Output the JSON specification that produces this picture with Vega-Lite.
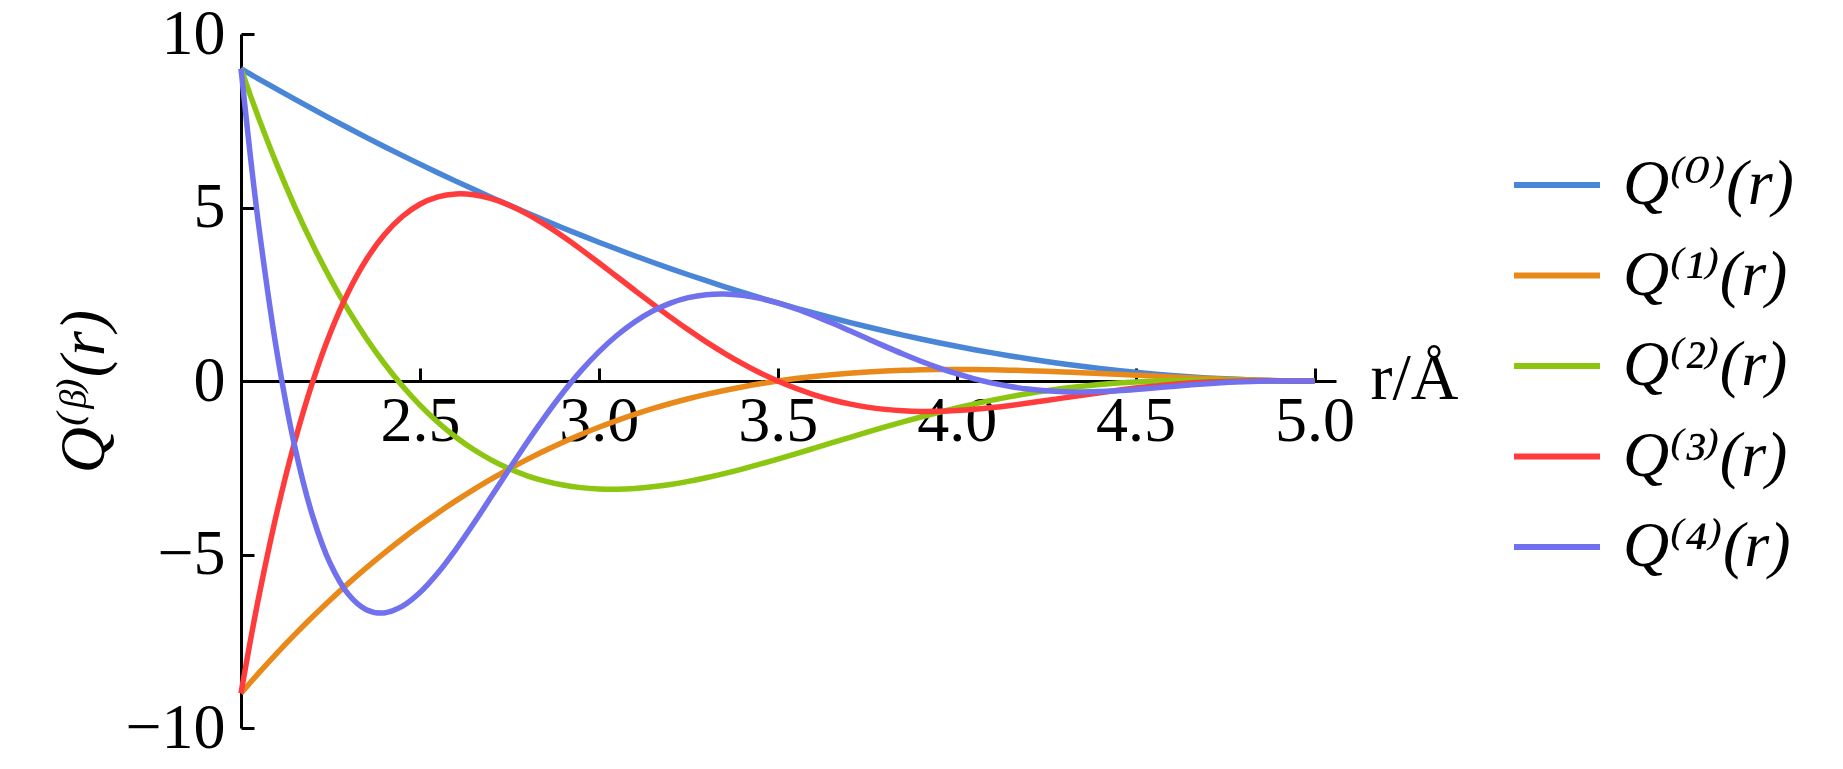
{
  "$schema": "https://vega.github.io/schema/vega-lite/v6.json",
  "autosize": {"type": "none"},
  "padding": {"left": 241, "top": 34, "right": 507, "bottom": 41},
  "width": 1095,
  "height": 694,
  "background": "white",
  "config": {"view": {"stroke": null}},
  "data": {"values": [
    {"r":2,"s":"Q⁽⁰⁾(r)","q":9},{"r":2.025,"s":"Q⁽⁰⁾(r)","q":8.8506},{"r":2.05,"s":"Q⁽⁰⁾(r)","q":8.7025},{"r":2.1,"s":"Q⁽⁰⁾(r)","q":8.41},{"r":2.15,"s":"Q⁽⁰⁾(r)","q":8.1225},{"r":2.2,"s":"Q⁽⁰⁾(r)","q":7.84},{"r":2.25,"s":"Q⁽⁰⁾(r)","q":7.5625},{"r":2.3,"s":"Q⁽⁰⁾(r)","q":7.29},{"r":2.35,"s":"Q⁽⁰⁾(r)","q":7.0225},{"r":2.4,"s":"Q⁽⁰⁾(r)","q":6.76},{"r":2.45,"s":"Q⁽⁰⁾(r)","q":6.5025},{"r":2.5,"s":"Q⁽⁰⁾(r)","q":6.25},{"r":2.55,"s":"Q⁽⁰⁾(r)","q":6.0025},{"r":2.6,"s":"Q⁽⁰⁾(r)","q":5.76},{"r":2.65,"s":"Q⁽⁰⁾(r)","q":5.5225},{"r":2.7,"s":"Q⁽⁰⁾(r)","q":5.29},{"r":2.75,"s":"Q⁽⁰⁾(r)","q":5.0625},{"r":2.8,"s":"Q⁽⁰⁾(r)","q":4.84},{"r":2.85,"s":"Q⁽⁰⁾(r)","q":4.6225},{"r":2.9,"s":"Q⁽⁰⁾(r)","q":4.41},{"r":2.95,"s":"Q⁽⁰⁾(r)","q":4.2025},{"r":3,"s":"Q⁽⁰⁾(r)","q":4},{"r":3.05,"s":"Q⁽⁰⁾(r)","q":3.8025},{"r":3.1,"s":"Q⁽⁰⁾(r)","q":3.61},{"r":3.15,"s":"Q⁽⁰⁾(r)","q":3.4225},{"r":3.2,"s":"Q⁽⁰⁾(r)","q":3.24},{"r":3.25,"s":"Q⁽⁰⁾(r)","q":3.0625},{"r":3.3,"s":"Q⁽⁰⁾(r)","q":2.89},{"r":3.35,"s":"Q⁽⁰⁾(r)","q":2.7225},{"r":3.4,"s":"Q⁽⁰⁾(r)","q":2.56},{"r":3.45,"s":"Q⁽⁰⁾(r)","q":2.4025},{"r":3.5,"s":"Q⁽⁰⁾(r)","q":2.25},{"r":3.55,"s":"Q⁽⁰⁾(r)","q":2.1025},{"r":3.6,"s":"Q⁽⁰⁾(r)","q":1.96},{"r":3.65,"s":"Q⁽⁰⁾(r)","q":1.8225},{"r":3.7,"s":"Q⁽⁰⁾(r)","q":1.69},{"r":3.75,"s":"Q⁽⁰⁾(r)","q":1.5625},{"r":3.8,"s":"Q⁽⁰⁾(r)","q":1.44},{"r":3.85,"s":"Q⁽⁰⁾(r)","q":1.3225},{"r":3.9,"s":"Q⁽⁰⁾(r)","q":1.21},{"r":3.95,"s":"Q⁽⁰⁾(r)","q":1.1025},{"r":4,"s":"Q⁽⁰⁾(r)","q":1},{"r":4.05,"s":"Q⁽⁰⁾(r)","q":0.9025},{"r":4.1,"s":"Q⁽⁰⁾(r)","q":0.81},{"r":4.15,"s":"Q⁽⁰⁾(r)","q":0.7225},{"r":4.2,"s":"Q⁽⁰⁾(r)","q":0.64},{"r":4.25,"s":"Q⁽⁰⁾(r)","q":0.5625},{"r":4.3,"s":"Q⁽⁰⁾(r)","q":0.49},{"r":4.35,"s":"Q⁽⁰⁾(r)","q":0.4225},{"r":4.4,"s":"Q⁽⁰⁾(r)","q":0.36},{"r":4.45,"s":"Q⁽⁰⁾(r)","q":0.3025},{"r":4.5,"s":"Q⁽⁰⁾(r)","q":0.25},{"r":4.55,"s":"Q⁽⁰⁾(r)","q":0.2025},{"r":4.6,"s":"Q⁽⁰⁾(r)","q":0.16},{"r":4.65,"s":"Q⁽⁰⁾(r)","q":0.1225},{"r":4.7,"s":"Q⁽⁰⁾(r)","q":0.09},{"r":4.75,"s":"Q⁽⁰⁾(r)","q":0.0625},{"r":4.8,"s":"Q⁽⁰⁾(r)","q":0.04},{"r":4.85,"s":"Q⁽⁰⁾(r)","q":0.0225},{"r":4.9,"s":"Q⁽⁰⁾(r)","q":0.01},{"r":4.95,"s":"Q⁽⁰⁾(r)","q":0.0025},{"r":5,"s":"Q⁽⁰⁾(r)","q":0},

    {"r":2,"s":"Q⁽¹⁾(r)","q":-9},{"r":2.025,"s":"Q⁽¹⁾(r)","q":-8.7031},{"r":2.05,"s":"Q⁽¹⁾(r)","q":-8.4124},{"r":2.1,"s":"Q⁽¹⁾(r)","q":-7.8493},{"r":2.15,"s":"Q⁽¹⁾(r)","q":-7.3103},{"r":2.2,"s":"Q⁽¹⁾(r)","q":-6.7947},{"r":2.25,"s":"Q⁽¹⁾(r)","q":-6.3021},{"r":2.3,"s":"Q⁽¹⁾(r)","q":-5.832},{"r":2.35,"s":"Q⁽¹⁾(r)","q":-5.3839},{"r":2.4,"s":"Q⁽¹⁾(r)","q":-4.9573},{"r":2.45,"s":"Q⁽¹⁾(r)","q":-4.5518},{"r":2.5,"s":"Q⁽¹⁾(r)","q":-4.1667},{"r":2.55,"s":"Q⁽¹⁾(r)","q":-3.8016},{"r":2.6,"s":"Q⁽¹⁾(r)","q":-3.456},{"r":2.65,"s":"Q⁽¹⁾(r)","q":-3.1294},{"r":2.7,"s":"Q⁽¹⁾(r)","q":-2.8213},{"r":2.75,"s":"Q⁽¹⁾(r)","q":-2.5313},{"r":2.8,"s":"Q⁽¹⁾(r)","q":-2.2587},{"r":2.85,"s":"Q⁽¹⁾(r)","q":-2.0031},{"r":2.9,"s":"Q⁽¹⁾(r)","q":-1.764},{"r":2.95,"s":"Q⁽¹⁾(r)","q":-1.5409},{"r":3,"s":"Q⁽¹⁾(r)","q":-1.3333},{"r":3.05,"s":"Q⁽¹⁾(r)","q":-1.1408},{"r":3.1,"s":"Q⁽¹⁾(r)","q":-0.9627},{"r":3.15,"s":"Q⁽¹⁾(r)","q":-0.7986},{"r":3.2,"s":"Q⁽¹⁾(r)","q":-0.648},{"r":3.25,"s":"Q⁽¹⁾(r)","q":-0.5104},{"r":3.3,"s":"Q⁽¹⁾(r)","q":-0.3853},{"r":3.35,"s":"Q⁽¹⁾(r)","q":-0.2723},{"r":3.4,"s":"Q⁽¹⁾(r)","q":-0.1707},{"r":3.45,"s":"Q⁽¹⁾(r)","q":-0.0801},{"r":3.5,"s":"Q⁽¹⁾(r)","q":0},{"r":3.55,"s":"Q⁽¹⁾(r)","q":0.0701},{"r":3.6,"s":"Q⁽¹⁾(r)","q":0.1307},{"r":3.65,"s":"Q⁽¹⁾(r)","q":0.1823},{"r":3.7,"s":"Q⁽¹⁾(r)","q":0.2253},{"r":3.75,"s":"Q⁽¹⁾(r)","q":0.2604},{"r":3.8,"s":"Q⁽¹⁾(r)","q":0.288},{"r":3.85,"s":"Q⁽¹⁾(r)","q":0.3086},{"r":3.9,"s":"Q⁽¹⁾(r)","q":0.3227},{"r":3.95,"s":"Q⁽¹⁾(r)","q":0.3308},{"r":4,"s":"Q⁽¹⁾(r)","q":0.3333},{"r":4.05,"s":"Q⁽¹⁾(r)","q":0.3309},{"r":4.1,"s":"Q⁽¹⁾(r)","q":0.324},{"r":4.15,"s":"Q⁽¹⁾(r)","q":0.3131},{"r":4.2,"s":"Q⁽¹⁾(r)","q":0.2987},{"r":4.25,"s":"Q⁽¹⁾(r)","q":0.2813},{"r":4.3,"s":"Q⁽¹⁾(r)","q":0.2613},{"r":4.35,"s":"Q⁽¹⁾(r)","q":0.2394},{"r":4.4,"s":"Q⁽¹⁾(r)","q":0.216},{"r":4.45,"s":"Q⁽¹⁾(r)","q":0.1916},{"r":4.5,"s":"Q⁽¹⁾(r)","q":0.1667},{"r":4.55,"s":"Q⁽¹⁾(r)","q":0.1418},{"r":4.6,"s":"Q⁽¹⁾(r)","q":0.1173},{"r":4.65,"s":"Q⁽¹⁾(r)","q":0.0939},{"r":4.7,"s":"Q⁽¹⁾(r)","q":0.072},{"r":4.75,"s":"Q⁽¹⁾(r)","q":0.0521},{"r":4.8,"s":"Q⁽¹⁾(r)","q":0.0347},{"r":4.85,"s":"Q⁽¹⁾(r)","q":0.0203},{"r":4.9,"s":"Q⁽¹⁾(r)","q":0.0093},{"r":4.95,"s":"Q⁽¹⁾(r)","q":0.0024},{"r":5,"s":"Q⁽¹⁾(r)","q":0},

    {"r":2,"s":"Q⁽²⁾(r)","q":9},{"r":2.025,"s":"Q⁽²⁾(r)","q":8.2655},{"r":2.05,"s":"Q⁽²⁾(r)","q":7.5615},{"r":2.1,"s":"Q⁽²⁾(r)","q":6.2421},{"r":2.15,"s":"Q⁽²⁾(r)","q":5.036},{"r":2.2,"s":"Q⁽²⁾(r)","q":3.9374},{"r":2.25,"s":"Q⁽²⁾(r)","q":2.941},{"r":2.3,"s":"Q⁽²⁾(r)","q":2.0412},{"r":2.35,"s":"Q⁽²⁾(r)","q":1.2329},{"r":2.4,"s":"Q⁽²⁾(r)","q":0.5108},{"r":2.45,"s":"Q⁽²⁾(r)","q":-0.1301},{"r":2.5,"s":"Q⁽²⁾(r)","q":-0.6944},{"r":2.55,"s":"Q⁽²⁾(r)","q":-1.1872},{"r":2.6,"s":"Q⁽²⁾(r)","q":-1.6128},{"r":2.65,"s":"Q⁽²⁾(r)","q":-1.9758},{"r":2.7,"s":"Q⁽²⁾(r)","q":-2.2806},{"r":2.75,"s":"Q⁽²⁾(r)","q":-2.5313},{"r":2.8,"s":"Q⁽²⁾(r)","q":-2.7319},{"r":2.85,"s":"Q⁽²⁾(r)","q":-2.8865},{"r":2.9,"s":"Q⁽²⁾(r)","q":-2.9988},{"r":2.95,"s":"Q⁽²⁾(r)","q":-3.0725},{"r":3,"s":"Q⁽²⁾(r)","q":-3.1111},{"r":3.05,"s":"Q⁽²⁾(r)","q":-3.1181},{"r":3.1,"s":"Q⁽²⁾(r)","q":-3.0966},{"r":3.15,"s":"Q⁽²⁾(r)","q":-3.0498},{"r":3.2,"s":"Q⁽²⁾(r)","q":-2.9808},{"r":3.25,"s":"Q⁽²⁾(r)","q":-2.8924},{"r":3.3,"s":"Q⁽²⁾(r)","q":-2.7872},{"r":3.35,"s":"Q⁽²⁾(r)","q":-2.6681},{"r":3.4,"s":"Q⁽²⁾(r)","q":-2.5372},{"r":3.45,"s":"Q⁽²⁾(r)","q":-2.3972},{"r":3.5,"s":"Q⁽²⁾(r)","q":-2.25},{"r":3.55,"s":"Q⁽²⁾(r)","q":-2.0978},{"r":3.6,"s":"Q⁽²⁾(r)","q":-1.9426},{"r":3.65,"s":"Q⁽²⁾(r)","q":-1.7861},{"r":3.7,"s":"Q⁽²⁾(r)","q":-1.6299},{"r":3.75,"s":"Q⁽²⁾(r)","q":-1.4757},{"r":3.8,"s":"Q⁽²⁾(r)","q":-1.3248},{"r":3.85,"s":"Q⁽²⁾(r)","q":-1.1785},{"r":3.9,"s":"Q⁽²⁾(r)","q":-1.0379},{"r":3.95,"s":"Q⁽²⁾(r)","q":-0.9041},{"r":4,"s":"Q⁽²⁾(r)","q":-0.7778},{"r":4.05,"s":"Q⁽²⁾(r)","q":-0.6598},{"r":4.1,"s":"Q⁽²⁾(r)","q":-0.5508},{"r":4.15,"s":"Q⁽²⁾(r)","q":-0.4512},{"r":4.2,"s":"Q⁽²⁾(r)","q":-0.3612},{"r":4.25,"s":"Q⁽²⁾(r)","q":-0.2813},{"r":4.3,"s":"Q⁽²⁾(r)","q":-0.2112},{"r":4.35,"s":"Q⁽²⁾(r)","q":-0.1512},{"r":4.4,"s":"Q⁽²⁾(r)","q":-0.1008},{"r":4.45,"s":"Q⁽²⁾(r)","q":-0.0598},{"r":4.5,"s":"Q⁽²⁾(r)","q":-0.0278},{"r":4.55,"s":"Q⁽²⁾(r)","q":-0.0041},{"r":4.6,"s":"Q⁽²⁾(r)","q":0.0121},{"r":4.65,"s":"Q⁽²⁾(r)","q":0.0215},{"r":4.7,"s":"Q⁽²⁾(r)","q":0.0252},{"r":4.75,"s":"Q⁽²⁾(r)","q":0.0243},{"r":4.8,"s":"Q⁽²⁾(r)","q":0.0201},{"r":4.85,"s":"Q⁽²⁾(r)","q":0.014},{"r":4.9,"s":"Q⁽²⁾(r)","q":0.0074},{"r":4.95,"s":"Q⁽²⁾(r)","q":0.0022},{"r":5,"s":"Q⁽²⁾(r)","q":0},

    {"r":2,"s":"Q⁽³⁾(r)","q":-9},{"r":2.025,"s":"Q⁽³⁾(r)","q":-7.5525},{"r":2.05,"s":"Q⁽³⁾(r)","q":-6.2067},{"r":2.1,"s":"Q⁽³⁾(r)","q":-3.8026},{"r":2.15,"s":"Q⁽³⁾(r)","q":-1.7545},{"r":2.2,"s":"Q⁽³⁾(r)","q":-0.0302},{"r":2.25,"s":"Q⁽³⁾(r)","q":1.4005},{"r":2.3,"s":"Q⁽³⁾(r)","q":2.5661},{"r":2.35,"s":"Q⁽³⁾(r)","q":3.4936},{"r":2.4,"s":"Q⁽³⁾(r)","q":4.2082},{"r":2.45,"s":"Q⁽³⁾(r)","q":4.7338},{"r":2.5,"s":"Q⁽³⁾(r)","q":5.0926},{"r":2.55,"s":"Q⁽³⁾(r)","q":5.3053},{"r":2.6,"s":"Q⁽³⁾(r)","q":5.3914},{"r":2.65,"s":"Q⁽³⁾(r)","q":5.3687},{"r":2.7,"s":"Q⁽³⁾(r)","q":5.254},{"r":2.75,"s":"Q⁽³⁾(r)","q":5.0625},{"r":2.8,"s":"Q⁽³⁾(r)","q":4.8084},{"r":2.85,"s":"Q⁽³⁾(r)","q":4.5047},{"r":2.9,"s":"Q⁽³⁾(r)","q":4.163},{"r":2.95,"s":"Q⁽³⁾(r)","q":3.7941},{"r":3,"s":"Q⁽³⁾(r)","q":3.4074},{"r":3.05,"s":"Q⁽³⁾(r)","q":3.0116},{"r":3.1,"s":"Q⁽³⁾(r)","q":2.6142},{"r":3.15,"s":"Q⁽³⁾(r)","q":2.2219},{"r":3.2,"s":"Q⁽³⁾(r)","q":1.8403},{"r":3.25,"s":"Q⁽³⁾(r)","q":1.4745},{"r":3.3,"s":"Q⁽³⁾(r)","q":1.1286},{"r":3.35,"s":"Q⁽³⁾(r)","q":0.8059},{"r":3.4,"s":"Q⁽³⁾(r)","q":0.509},{"r":3.45,"s":"Q⁽³⁾(r)","q":0.2399},{"r":3.5,"s":"Q⁽³⁾(r)","q":0},{"r":3.55,"s":"Q⁽³⁾(r)","q":-0.2099},{"r":3.6,"s":"Q⁽³⁾(r)","q":-0.3897},{"r":3.65,"s":"Q⁽³⁾(r)","q":-0.5395},{"r":3.7,"s":"Q⁽³⁾(r)","q":-0.66},{"r":3.75,"s":"Q⁽³⁾(r)","q":-0.7523},{"r":3.8,"s":"Q⁽³⁾(r)","q":-0.8179},{"r":3.85,"s":"Q⁽³⁾(r)","q":-0.8586},{"r":3.9,"s":"Q⁽³⁾(r)","q":-0.8762},{"r":3.95,"s":"Q⁽³⁾(r)","q":-0.8732},{"r":4,"s":"Q⁽³⁾(r)","q":-0.8519},{"r":4.05,"s":"Q⁽³⁾(r)","q":-0.8148},{"r":4.1,"s":"Q⁽³⁾(r)","q":-0.7646},{"r":4.15,"s":"Q⁽³⁾(r)","q":-0.7041},{"r":4.2,"s":"Q⁽³⁾(r)","q":-0.6358},{"r":4.25,"s":"Q⁽³⁾(r)","q":-0.5625},{"r":4.3,"s":"Q⁽³⁾(r)","q":-0.4867},{"r":4.35,"s":"Q⁽³⁾(r)","q":-0.4107},{"r":4.4,"s":"Q⁽³⁾(r)","q":-0.337},{"r":4.45,"s":"Q⁽³⁾(r)","q":-0.2674},{"r":4.5,"s":"Q⁽³⁾(r)","q":-0.2037},{"r":4.55,"s":"Q⁽³⁾(r)","q":-0.1474},{"r":4.6,"s":"Q⁽³⁾(r)","q":-0.0996},{"r":4.65,"s":"Q⁽³⁾(r)","q":-0.0609},{"r":4.7,"s":"Q⁽³⁾(r)","q":-0.0317},{"r":4.75,"s":"Q⁽³⁾(r)","q":-0.0116},{"r":4.8,"s":"Q⁽³⁾(r)","q":0.0002},{"r":4.85,"s":"Q⁽³⁾(r)","q":0.0049},{"r":4.9,"s":"Q⁽³⁾(r)","q":0.0045},{"r":4.95,"s":"Q⁽³⁾(r)","q":0.0018},{"r":5,"s":"Q⁽³⁾(r)","q":0},

    {"r":2,"s":"Q⁽⁴⁾(r)","q":9},{"r":2.025,"s":"Q⁽⁴⁾(r)","q":6.5873},{"r":2.05,"s":"Q⁽⁴⁾(r)","q":4.4379},{"r":2.1,"s":"Q⁽⁴⁾(r)","q":0.8556},{"r":2.15,"s":"Q⁽⁴⁾(r)","q":-1.8779},{"r":2.2,"s":"Q⁽⁴⁾(r)","q":-3.8852},{"r":2.25,"s":"Q⁽⁴⁾(r)","q":-5.2751},{"r":2.3,"s":"Q⁽⁴⁾(r)","q":-6.1469},{"r":2.35,"s":"Q⁽⁴⁾(r)","q":-6.5897},{"r":2.4,"s":"Q⁽⁴⁾(r)","q":-6.6829},{"r":2.45,"s":"Q⁽⁴⁾(r)","q":-6.4973},{"r":2.5,"s":"Q⁽⁴⁾(r)","q":-6.0957},{"r":2.55,"s":"Q⁽⁴⁾(r)","q":-5.5329},{"r":2.6,"s":"Q⁽⁴⁾(r)","q":-4.8568},{"r":2.65,"s":"Q⁽⁴⁾(r)","q":-4.1087},{"r":2.7,"s":"Q⁽⁴⁾(r)","q":-3.3236},{"r":2.75,"s":"Q⁽⁴⁾(r)","q":-2.5313},{"r":2.8,"s":"Q⁽⁴⁾(r)","q":-1.7559},{"r":2.85,"s":"Q⁽⁴⁾(r)","q":-1.0176},{"r":2.9,"s":"Q⁽⁴⁾(r)","q":-0.3316},{"r":2.95,"s":"Q⁽⁴⁾(r)","q":0.2901},{"r":3,"s":"Q⁽⁴⁾(r)","q":0.8395},{"r":3.05,"s":"Q⁽⁴⁾(r)","q":1.3111},{"r":3.1,"s":"Q⁽⁴⁾(r)","q":1.7023},{"r":3.15,"s":"Q⁽⁴⁾(r)","q":2.013},{"r":3.2,"s":"Q⁽⁴⁾(r)","q":2.2447},{"r":3.25,"s":"Q⁽⁴⁾(r)","q":2.4009},{"r":3.3,"s":"Q⁽⁴⁾(r)","q":2.4863},{"r":3.35,"s":"Q⁽⁴⁾(r)","q":2.5069},{"r":3.4,"s":"Q⁽⁴⁾(r)","q":2.4694},{"r":3.45,"s":"Q⁽⁴⁾(r)","q":2.3812},{"r":3.5,"s":"Q⁽⁴⁾(r)","q":2.25},{"r":3.55,"s":"Q⁽⁴⁾(r)","q":2.0838},{"r":3.6,"s":"Q⁽⁴⁾(r)","q":1.8906},{"r":3.65,"s":"Q⁽⁴⁾(r)","q":1.6782},{"r":3.7,"s":"Q⁽⁴⁾(r)","q":1.4539},{"r":3.75,"s":"Q⁽⁴⁾(r)","q":1.2249},{"r":3.8,"s":"Q⁽⁴⁾(r)","q":0.9976},{"r":3.85,"s":"Q⁽⁴⁾(r)","q":0.7778},{"r":3.9,"s":"Q⁽⁴⁾(r)","q":0.5706},{"r":3.95,"s":"Q⁽⁴⁾(r)","q":0.3801},{"r":4,"s":"Q⁽⁴⁾(r)","q":0.2099},{"r":4.05,"s":"Q⁽⁴⁾(r)","q":0.0623},{"r":4.1,"s":"Q⁽⁴⁾(r)","q":-0.0609},{"r":4.15,"s":"Q⁽⁴⁾(r)","q":-0.1591},{"r":4.2,"s":"Q⁽⁴⁾(r)","q":-0.2322},{"r":4.25,"s":"Q⁽⁴⁾(r)","q":-0.2813},{"r":4.3,"s":"Q⁽⁴⁾(r)","q":-0.3079},{"r":4.35,"s":"Q⁽⁴⁾(r)","q":-0.3143},{"r":4.4,"s":"Q⁽⁴⁾(r)","q":-0.3036},{"r":4.45,"s":"Q⁽⁴⁾(r)","q":-0.2788},{"r":4.5,"s":"Q⁽⁴⁾(r)","q":-0.2438},{"r":4.55,"s":"Q⁽⁴⁾(r)","q":-0.2023},{"r":4.6,"s":"Q⁽⁴⁾(r)","q":-0.1582},{"r":4.65,"s":"Q⁽⁴⁾(r)","q":-0.115},{"r":4.7,"s":"Q⁽⁴⁾(r)","q":-0.0759},{"r":4.75,"s":"Q⁽⁴⁾(r)","q":-0.0436},{"r":4.8,"s":"Q⁽⁴⁾(r)","q":-0.0198},{"r":4.85,"s":"Q⁽⁴⁾(r)","q":-0.0052},{"r":4.9,"s":"Q⁽⁴⁾(r)","q":0.001},{"r":4.95,"s":"Q⁽⁴⁾(r)","q":0.0013},{"r":5,"s":"Q⁽⁴⁾(r)","q":0}
  ]},
  "mark": {"type": "line", "strokeWidth": 5.5, "interpolate": "catmull-rom"},
  "encoding": {
    "x": {
      "field": "r", "type": "quantitative",
      "scale": {"domain": [2, 5.06], "nice": false, "zero": false},
      "axis": {
        "orient": "bottom", "offset": -347,
        "values": [2.5, 3, 3.5, 4, 4.5, 5], "format": ".1f",
        "grid": false, "labelFlush": false, "labelOverlap": false,
        "domainColor": "black", "domainWidth": 3,
        "tickColor": "black", "tickWidth": 3, "tickSize": -13,
        "labelFont": "Liberation Serif", "labelFontSize": 64, "labelColor": "black", "labelPadding": 21,
        "title": "r/Å", "titleFont": "Liberation Serif", "titleFontSize": 66, "titleFontWeight": "normal", "titleColor": "black",
        "titleX": 1129, "titleY": 17, "titleAlign": "left", "titleBaseline": "alphabetic", "titleAngle": 0
      }
    },
    "y": {
      "field": "q", "type": "quantitative",
      "scale": {"domain": [-10, 10], "nice": false},
      "axis": {
        "values": [-10, -5, 0, 5, 10], "format": "d",
        "grid": false, "labelFlush": false, "labelOverlap": false,
        "domainColor": "black", "domainWidth": 3,
        "tickColor": "black", "tickWidth": 3, "tickSize": -13,
        "labelFont": "Liberation Serif", "labelFontSize": 64, "labelColor": "black", "labelPadding": 29,
        "title": "Q⁽ᵝ⁾(r)", "titleFont": "'Liberation Serif', 'DejaVu Serif', serif", "titleFontSize": 64, "titleFontWeight": "normal", "titleFontStyle": "italic", "titleColor": "black",
        "titleX": -138, "titleY": 357, "titleAngle": 270, "titleAlign": "center", "titleBaseline": "alphabetic"
      }
    },
    "color": {
      "field": "s", "type": "nominal",
      "scale": {"domain": ["Q⁽⁰⁾(r)", "Q⁽¹⁾(r)", "Q⁽²⁾(r)", "Q⁽³⁾(r)", "Q⁽⁴⁾(r)"], "range": ["#4a86d8", "#e8891a", "#8cc611", "#ff3b3b", "#7171ee"]},
      "legend": {
        "orient": "none", "legendX": 1270, "legendY": 105, "title": null, "padding": 0,
        "symbolType": "stroke", "symbolSize": 7396, "symbolStrokeWidth": 6,
        "labelFont": "'Liberation Serif', 'DejaVu Serif', serif", "labelFontSize": 64, "labelFontStyle": "italic", "labelColor": "black",
        "labelOffset": 20, "labelLimit": 500, "rowPadding": 12.5
      }
    }
  }
}
